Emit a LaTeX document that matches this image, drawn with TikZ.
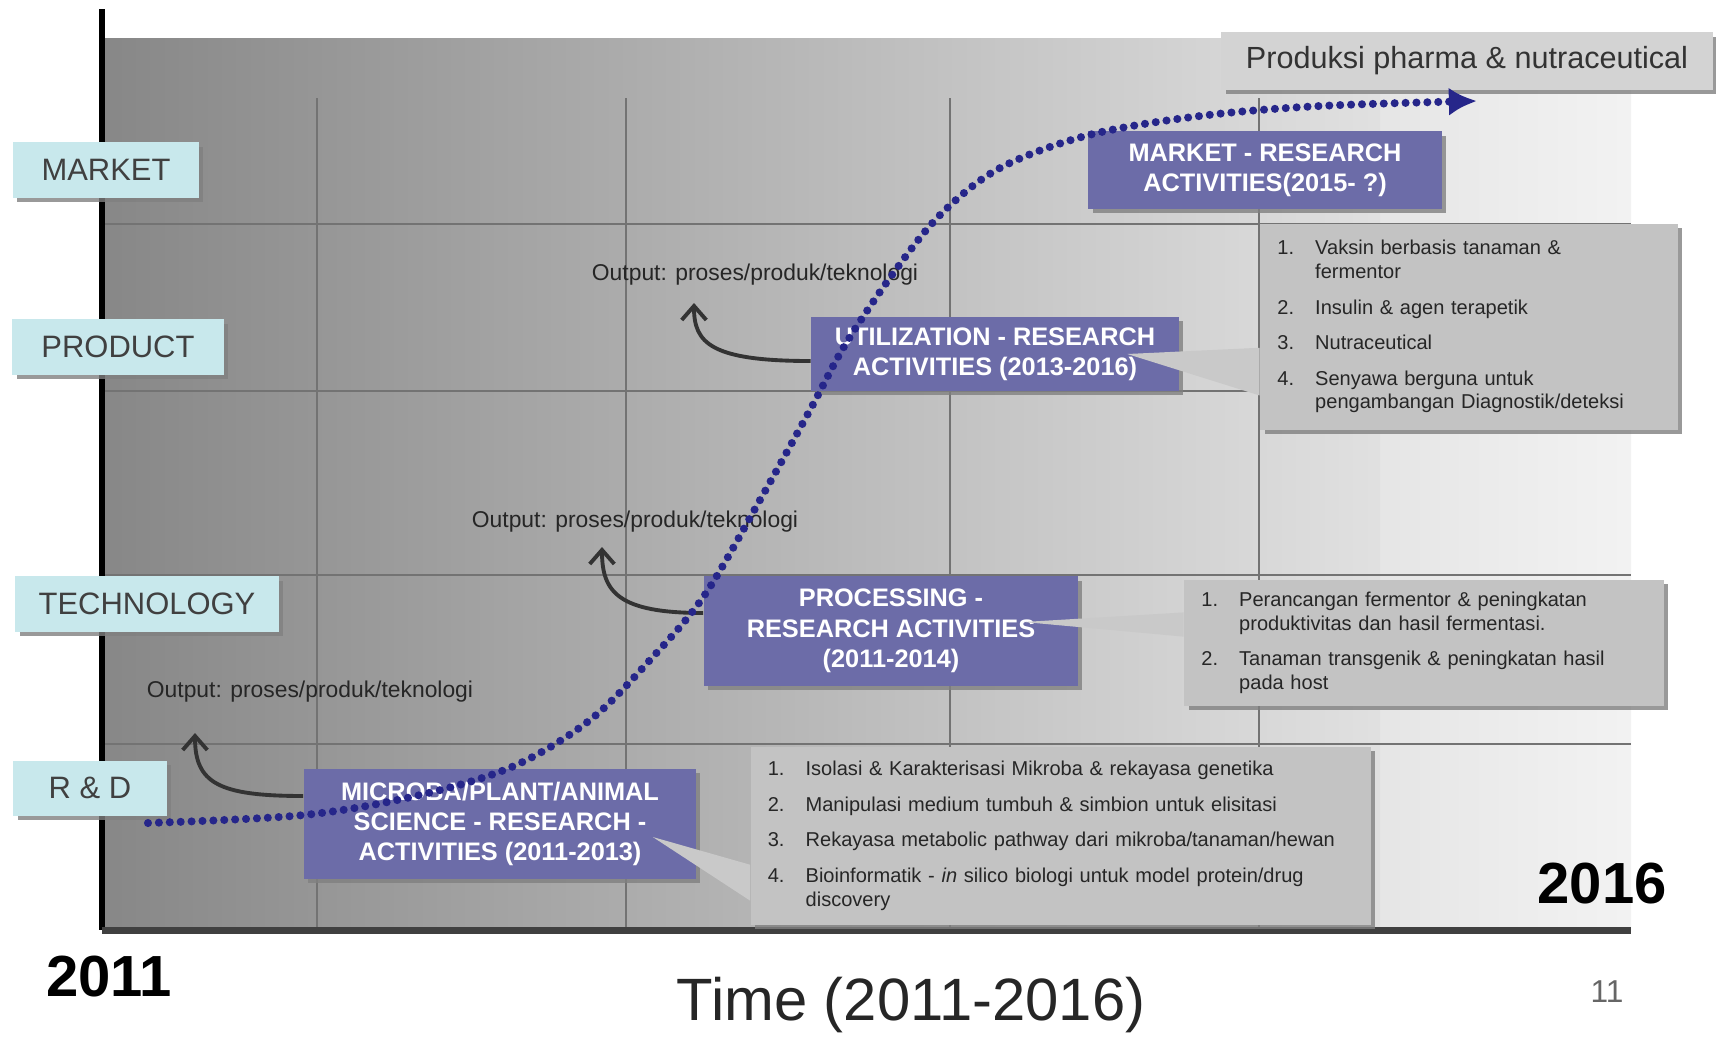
\documentclass[tikz,border=0pt]{standalone}
\usepackage{fontspec}
\setmainfont{Liberation Sans}
\usetikzlibrary{arrows.meta,positioning,shadows,calc}

\definecolor{lblcyan}{HTML}{C8E8EC}
\definecolor{resblue}{HTML}{6C6CA8}
\definecolor{listgray}{HTML}{C3C3C3}
\definecolor{curveblue}{HTML}{26268A}
\definecolor{prodgray}{HTML}{D3D3D3}

\begin{document}
\begin{tikzpicture}[
    x=0.01cm,y=-0.01cm,
    shad/.style={drop shadow={shadow xshift=1.2pt,shadow yshift=-1.2pt,
                 fill=black!50,opacity=.8}},
    lbl/.style={fill=lblcyan,minimum height=0.55cm,inner sep=0pt,shad,
                text=black!75,font=\fontsize{8.8}{10}\selectfont},
    resbox/.style={fill=resblue,text=white,align=center,inner sep=0pt,shad,
                font=\fontsize{7.2}{8.6}\selectfont\bfseries},
    listbox/.style={fill=listgray,inner xsep=1.7mm,inner ysep=0pt,align=left,
                shad,text=black!85,font=\fontsize{5.7}{6.8}\selectfont},
    tail/.style={fill=listgray!90!white},
    gridline/.style={draw=black!55,line width=0.5pt},
    outlbl/.style={text=black!85,font=\fontsize{6.5}{7.5}\selectfont},
    outarrow/.style={draw=black!80,line width=1.1pt,
                -{Straight Barb[length=4pt,width=7pt]}},
    scurve/.style={curveblue,line width=2.3pt,line cap=round,
                dash pattern=on 0pt off 3.1pt,-{Latex[length=8pt,width=8pt]}},
    year/.style={font=\fontsize{16.5}{18}\selectfont\bfseries}
  ]
  \useasboundingbox (0,0) rectangle (1716,1039);

  % background of the chart
  \shade[left color=black!47,right color=black!12] (102,38) rectangle (1380,930);
  \shade[left color=black!10,right color=black!5] (1380,38) rectangle (1631,930);
  \foreach \gx in {317,626,950,1259}
    \draw[gridline] (\gx,98) -- (\gx,930);
  \foreach \gy in {224,391,575,744}
    \draw[gridline] (102,\gy) -- (1631,\gy);
  \draw[black,line width=1.5pt] (102,9) -- (102,930);
  \draw[black!75,line width=2pt] (102,930) -- (1631,930);

  % rows
  \node[lbl,minimum width=1.86cm] (market) at (106,170) {MARKET};
  \node[lbl,minimum width=2.11cm] (product) at (118,347) {PRODUCT};
  \node[lbl,minimum width=2.63cm] (technology) at (147,604) {TECHNOLOGY};
  \node[lbl,minimum width=1.53cm] (rnd) at (90,788) {R \& D};

  % outputs
  \node[outlbl] (out1) at (310,692) {Output: proses/produk/teknologi};
  \node[outlbl] (out2) at (635,522) {Output: proses/produk/teknologi};
  \node[outlbl] (out3) at (755,275) {Output: proses/produk/teknologi};
  \coordinate (tip1) at (195,733);
  \coordinate (tip2) at (602,547);
  \coordinate (tip3) at (694,303);

  % research activities
  \node[resbox,minimum width=3.92cm,minimum height=1.10cm] (micro) at (500,824)
    {MICROBA/PLANT/ANIMAL\\SCIENCE - RESEARCH -\\ACTIVITIES (2011-2013)};
  \node[resbox,minimum width=3.74cm,minimum height=1.09cm] (proc) at (891,631)
    {PROCESSING -\\RESEARCH ACTIVITIES\\(2011-2014)};
  \node[resbox,minimum width=3.67cm,minimum height=0.74cm] (util) at (995,354)
    {UTILIZATION - RESEARCH\\ACTIVITIES (2013-2016)};
  \node[resbox,minimum width=3.53cm,minimum height=0.77cm] (mktres) at (1265,170)
    {MARKET - RESEARCH\\ACTIVITIES(2015- ?)};

  \draw[outarrow] ([yshift=2.8mm]micro.west) .. controls +(-85,0) and +(0,50) .. (tip1);
  \draw[outarrow] ([yshift=1.8mm]proc.west) .. controls +(-85,0) and +(0,45) .. (tip2);
  \draw[outarrow] ([yshift=-0.7mm]util.west) .. controls +(-100,0) and +(0,40) .. (tip3);

  % lists
  \node[listbox,text width=3.83cm,minimum height=2.06cm] (prodlist) at (1469,327) {%
    \begin{tabular}{@{}l@{\hspace{6pt}}l@{}}
    1. & Vaksin berbasis tanaman \&\\
       & fermentor\\[3.3pt]
    2. & Insulin \& agen terapetik\\[3.3pt]
    3. & Nutraceutical\\[3.3pt]
    4. & Senyawa berguna untuk\\
       & pengambangan Diagnostik/deteksi
    \end{tabular}};
  \node[listbox,text width=4.45cm,minimum height=1.26cm] (proclist) at (1424,643) {%
    \begin{tabular}{@{}l@{\hspace{6pt}}l@{}}
    1. & Perancangan fermentor \& peningkatan\\
       & produktivitas dan hasil fermentasi.\\[3.3pt]
    2. & Tanaman transgenik \& peningkatan hasil\\
       & pada host
    \end{tabular}};
  \node[listbox,text width=5.86cm,minimum height=1.78cm] (rdlist) at (1061,836) {%
    \begin{tabular}{@{}l@{\hspace{6pt}}l@{}}
    1. & Isolasi \& Karakterisasi Mikroba \& rekayasa genetika\\[3.3pt]
    2. & Manipulasi medium tumbuh \& simbion untuk elisitasi\\[3.3pt]
    3. & Rekayasa metabolic pathway dari mikroba/tanaman/hewan\\[3.3pt]
    4. & Bioinformatik - \textit{in} silico biologi untuk model protein/drug\\
       & discovery
    \end{tabular}};

  % callout tails
  \fill[tail] ([xshift=-5.2mm]util.east)
    -- ($(prodlist.north west)!0.60!(prodlist.south west)$)
    -- ($(prodlist.north west)!0.83!(prodlist.south west)$) -- cycle;
  \fill[tail] ([xshift=-5.5mm,yshift=0.9mm]proc.east)
    -- ($(proclist.north west)!0.26!(proclist.south west)$)
    -- ($(proclist.north west)!0.45!(proclist.south west)$) -- cycle;
  \fill[tail] ([xshift=-4.4mm,yshift=-1.3mm]micro.east)
    -- ($(rdlist.north west)!0.66!(rdlist.south west)$)
    -- ($(rdlist.north west)!0.86!(rdlist.south west)$) -- cycle;

  \node[fill=prodgray,shad,minimum width=4.91cm,minimum height=0.57cm,inner sep=0pt,
        text=black!80,font=\fontsize{8.7}{10}\selectfont] (pharma) at (1467,61)
    {Produksi pharma \& nutraceutical};

  % growth curve
  \coordinate (sstart) at (148,823);
  \coordinate (send) at (1477,101);
  \draw[scurve] plot[smooth,tension=0.55] coordinates {(sstart) (304,815) (420,795)
    (514,766) (590,720) (650,660) (704,596) (760,500) (810,410) (845,345)
    (892,275) (940,215) (1000,168) (1089,135) (1200,116) (1320,106) (send)};

  % time axis
  \node[year] (y2011) at (109,977) {2011};
  \node[year] (y2016) at (1602,884) {2016};
  \node[font=\fontsize{17}{19}\selectfont,text=black!85] (time) at (911,1005) {Time (2011-2016)};
  \node[font=\fontsize{9}{10}\selectfont,text=black!60] (page) at (1607,992) {11};
\end{tikzpicture}
\end{document}
